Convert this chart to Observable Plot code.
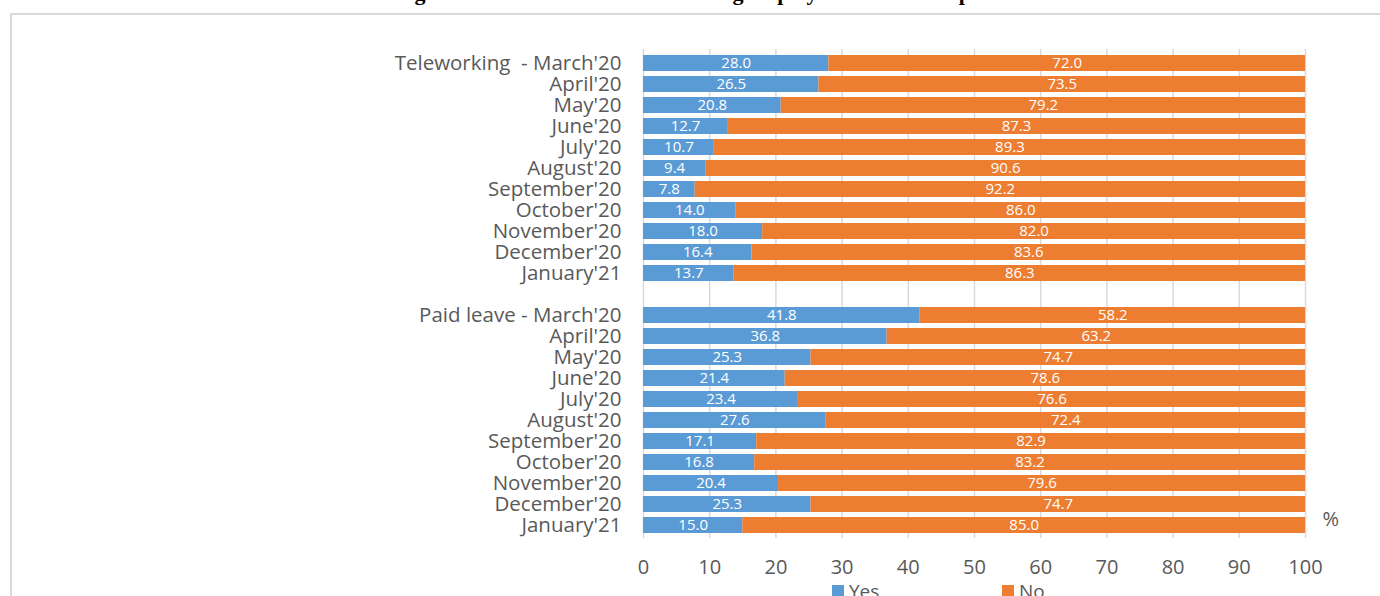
<!DOCTYPE html>
<html>
<head>
<meta charset="utf-8">
<script src="https://cdn.jsdelivr.net/npm/d3@7"></script>
<script src="https://cdn.jsdelivr.net/npm/@observablehq/plot@0.6"></script>
<style>
  html, body { margin: 0; padding: 0; background: #fff; }
  #wrap { position: relative; width: 1380px; height: 596px; overflow: hidden; font-family: "Open Sans", sans-serif; }
  #title { position: absolute; left: 0; width: 1400px; top: -18px; text-align: center; font: bold 22px "Liberation Serif", serif; line-height: 22px; color: #000; white-space: nowrap; }
  #frame { position: absolute; left: 10px; top: 13px; width: 1400px; height: 620px; border: 2px solid #d9d9d9; box-sizing: border-box; }
  #chart { position: absolute; left: 0; top: 0; }
  #legend { position: absolute; top: 578px; left: 0; width: 1380px; font-size: 19px; color: #595959; }
  .item { position: absolute; display: flex; align-items: center; gap: 5px; }
  .sw { width: 12px; height: 12px; display: inline-block; }
</style>
</head>
<body>
<div id="wrap">
  <div id="title">Figure 5: Measures taken concerning employees in the enterprise</div>
  <div id="frame"></div>
  <div id="chart"></div>
  <div id="legend"></div>
</div>
<script>
const months = ["March'20","April'20","May'20","June'20","July'20","August'20","September'20","October'20","November'20","December'20","January'21"];
const groups = ["Teleworking", "Paid leave"];
const groupPrefix = ["Teleworking\u00a0\u00a0- ", "Paid leave - "];
const series = ["Yes", "No"];
const colors = ["#5B9BD5", "#ED7D31"];
const teleYes = [28.0, 26.5, 20.8, 12.7, 10.7, 9.4, 7.8, 14.0, 18.0, 16.4, 13.7];
const teleNo  = [72.0, 73.5, 79.2, 87.3, 89.3, 90.6, 92.2, 86.0, 82.0, 83.6, 86.3];
const leaveYes = [41.8, 36.8, 25.3, 21.4, 23.4, 27.6, 17.1, 16.8, 20.4, 25.3, 15.0];
const leaveNo  = [58.2, 63.2, 74.7, 78.6, 76.6, 72.4, 82.9, 83.2, 79.6, 74.7, 85.0];
const xTicks = [0,10,20,30,40,50,60,70,80,90,100];

// build rows
const keys = [];
const labelOf = {};
const rows = [];
const groupValues = [[teleYes, teleNo], [leaveYes, leaveNo]];
groups.forEach((g, gi) => {
  months.forEach((m, mi) => {
    const key = g + "|" + m;
    keys.push(key);
    labelOf[key] = (mi === 0 ? groupPrefix[gi] : "") + m;
    series.forEach((s, si) => rows.push({key, series: s, value: groupValues[gi][si][mi]}));
  });
  if (gi === 0) { keys.push("gap"); labelOf["gap"] = ""; }
});

const plot = Plot.plot({
  width: 1380,
  height: 596,
  marginLeft: 643,
  marginRight: 75,
  marginTop: 49,
  marginBottom: 58,
  style: { fontFamily: "'Open Sans', sans-serif", fontSize: "20px", color: "#595959", background: "transparent", overflow: "visible" },
  x: { domain: [0, 100], ticks: xTicks },
  y: { domain: keys, paddingInner: 0.25, paddingOuter: 0.125 },
  color: { domain: series, range: colors },
  marks: [
    Plot.gridX(xTicks, { stroke: "#d9d9d9", strokeOpacity: 1, strokeWidth: 1.5 }),
    Plot.barX(rows, Plot.stackX({ x: "value", y: "key", fill: "series", order: series })),
    Plot.text(rows, Plot.stackX({ x: "value", y: "key", z: "series", order: series, text: d => d.value.toFixed(1), fill: "white", fontSize: 15 })),
    Plot.axisX({ ticks: xTicks, tickSize: 0, tickPadding: 21, label: null, fill: "#595959", fontSize: 20 }),
    Plot.axisY({ tickSize: 0, tickPadding: 22, label: null, tickFormat: k => labelOf[k], fill: "#595959", fontSize: 20.5 }),
    Plot.text(["%"], { frameAnchor: "bottom-right", dx: 17, dy: -13, fill: "#595959", fontSize: 20, textAnchor: "start" })
  ]
});
document.getElementById("chart").appendChild(plot);

const legend = document.getElementById("legend");
const legendX = [832, 1002];
series.forEach((s, i) => {
  const it = document.createElement("div");
  it.className = "item";
  it.style.left = legendX[i] + "px";
  it.innerHTML = `<span class="sw" style="background:${colors[i]}"></span><span>${s}</span>`;
  legend.appendChild(it);
});
</script>
</body>
</html>
